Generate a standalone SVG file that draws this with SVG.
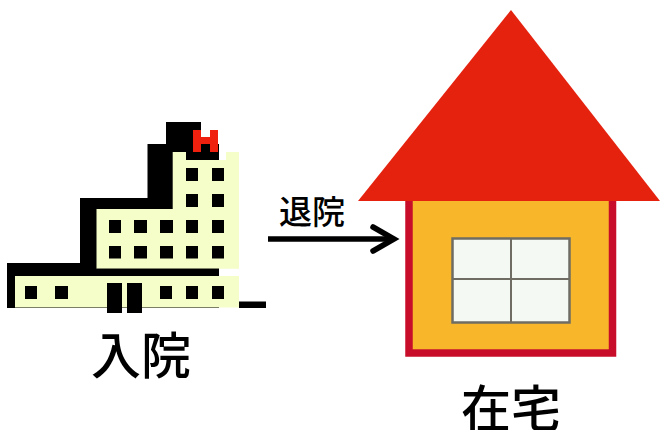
<svg xmlns="http://www.w3.org/2000/svg" width="660" height="430" viewBox="0 0 660 430">
<defs><filter id="soft" x="-5%" y="-5%" width="110%" height="110%"><feGaussianBlur stdDeviation="0.6"/></filter></defs>
<style>
.k{fill:#000}.c{fill:#f5fdc8}.r{fill:#f0200f}
text{font-family:"Noto Sans CJK JP","Noto Sans CJK SC",sans-serif;font-weight:500;fill:#000;text-anchor:middle}
.w{fill:#f4f9f4;stroke:#6e6c64;stroke-width:2.500}
.d{fill:none;stroke:#6e6c64;stroke-width:2}
</style>
<rect width="660" height="430" fill="#fff"/>
<g id="hospital">
<path class="k" d="M166 122H201V144H219V308H7V263H80V198H147.500V144H166Z"/>
<path class="c" d="M172.700 152H186V160H226V152H239V268.700H96.500V209H172.700Z"/>
<rect class="k" x="96.500" y="268.700" width="122.500" height="8"/>
<path class="c" d="M15 276H239V307.500H15Z"/>
<rect class="k" x="239" y="301.500" width="27" height="6.500"/>
<path class="r" d="M193 130H201V137H210V130H218V152H210V144H201V152H193Z"/>
<g class="k">
<rect x="186" y="168" width="12" height="13"/><rect x="212" y="168" width="12" height="13"/>
<rect x="186" y="194" width="12" height="13"/><rect x="212" y="194" width="12" height="13"/>
<rect x="109" y="220" width="12" height="13"/><rect x="134" y="220" width="13" height="13"/><rect x="160" y="220" width="13" height="13"/><rect x="186" y="220" width="12" height="13"/><rect x="212" y="220" width="12" height="13"/>
<rect x="109" y="246" width="12" height="12.500"/><rect x="134" y="246" width="13" height="12.500"/><rect x="160" y="246" width="13" height="12.500"/><rect x="186" y="246" width="12" height="12.500"/><rect x="212" y="246" width="12" height="12.500"/>
<rect x="25" y="286" width="12" height="13"/><rect x="55" y="286" width="13" height="13"/>
<rect x="160" y="286" width="12" height="13"/><rect x="186" y="286" width="12" height="13"/><rect x="212" y="286" width="12" height="13"/>
<rect x="107" y="283" width="15" height="30"/><rect x="127" y="283" width="15" height="30"/>
</g>
<text x="141" y="374" font-size="50">入院</text>
</g>
<g id="home">
<g filter="url(#soft)">
<rect x="409" y="195" width="203.500" height="158" fill="#f8b62a" stroke="#c8102a" stroke-width="7.500"/>
<path d="M511 10L358 201H660Z" fill="#e5200f"/>
<rect class="w" x="452.500" y="238.500" width="117" height="84"/>
<path class="d" d="M511 238V323M452 279H570"/>
</g>
<text x="511" y="427" font-size="50">在宅</text>
</g>
<g id="connectors">
<path d="M268 239H392" fill="none" stroke="#000" stroke-width="5.500"/>
<path d="M373 227L394 239L373 251" fill="none" stroke="#000" stroke-width="5.500" stroke-linecap="round"/>
<text x="312" y="224" font-size="33">退院</text>
</g>
</svg>
